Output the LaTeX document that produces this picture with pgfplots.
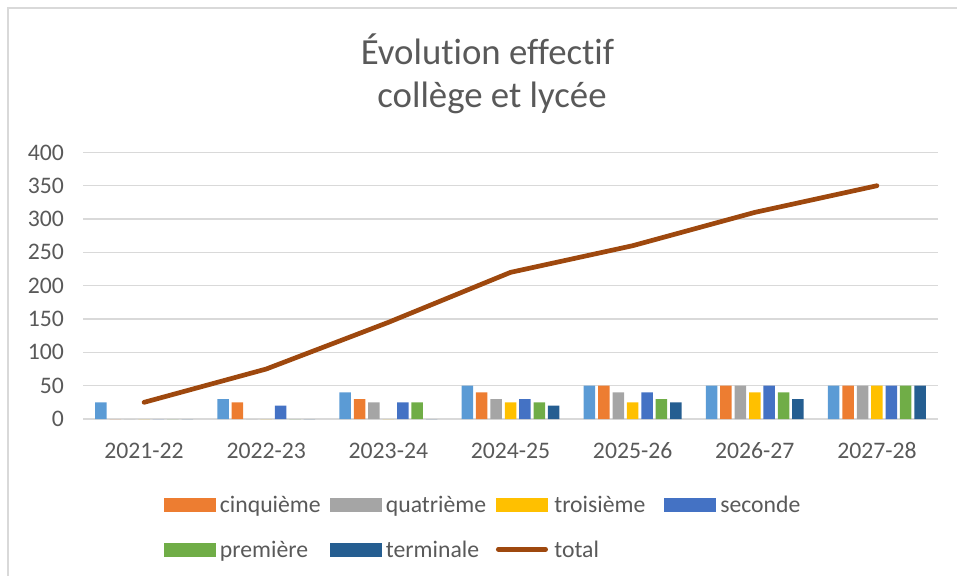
\documentclass[border=0pt]{standalone}
\usepackage{fontspec}
\setmainfont{Carlito}[Ligatures=NoCommon]
\usepackage{pgfplots}
\pgfplotsset{compat=1.18}
\definecolor{csix}{HTML}{5B9BD5}
\definecolor{ccinq}{HTML}{ED7D31}
\definecolor{cquat}{HTML}{A5A5A5}
\definecolor{ctrois}{HTML}{FFC000}
\definecolor{csec}{HTML}{4472C4}
\definecolor{cprem}{HTML}{70AD47}
\definecolor{cterm}{HTML}{255E91}
\definecolor{ctot}{HTML}{9E480E}
\definecolor{txt}{HTML}{595959}
\definecolor{gridc}{HTML}{D9D9D9}
\newcommand{\tickfont}{\fontsize{23.7pt}{28pt}\selectfont}
\newcommand{\titlefont}{\fontsize{36.8pt}{44pt}\selectfont}
\pgfplotsset{
  barleg/.style={legend image code/.code={\fill[#1] (0pt,0pt) rectangle (52pt,14pt); \path (56pt,0pt);}},
  barp/.style={ybar, bar width=11.5pt, fill=#1, draw=none},
}
\newcommand{\lt}[1]{\makebox[110pt][l]{#1}}
\begin{document}
\begin{tikzpicture}
\useasboundingbox (0pt,0pt) rectangle (957pt,575pt);
\draw[color=gridc, line width=1.7pt] (8pt,-5pt) -- (8pt,567pt) -- (965pt,567pt);
\node[anchor=base, text=txt, font=\titlefont, inner sep=0pt] at (487.5pt,510pt) {Évolution effectif};
\node[anchor=base, text=txt, font=\titlefont, inner sep=0pt] at (492pt,467pt) {collège et lycée};
\begin{axis}[
  at={(83pt,156pt)}, anchor=south west,
  scale only axis, width=855pt, height=266.6pt,
  xmin=-0.5, xmax=6.5, ymin=0, ymax=400,
  ytick={0,50,...,400},
  xtick={0,1,2,3,4,5,6},
  xticklabels={2021-22,2022-23,2023-24,2024-25,2025-26,2026-27,2027-28},
  ymajorgrids, xmajorgrids=false,
  major grid style={draw=gridc, line width=1.3pt},
  axis line style={draw=none},
  major tick length=0pt, tick style={draw=none},
  /pgf/number format/assume math mode=true,
  ticklabel style={font=\tickfont, text=txt, inner sep=0pt},
  xticklabel style={anchor=base, yshift=-39pt},
  yticklabel style={anchor=east, xshift=-19pt},
  legend columns=4,
  legend style={at={(0.0947,-0.2824)}, anchor=north west, draw=none, fill=none,
    inner sep=0pt, outer sep=0pt, row sep=21pt, column sep=0pt,
    nodes={inner sep=0pt, text height=18pt, text depth=6pt, font=\tickfont, text=txt},
    cells={anchor=base west}},
]
\addplot[barp=csix, bar shift=-43.2pt, forget plot] coordinates {(0,25) (1,30) (2,40) (3,50) (4,50) (5,50) (6,50)};
\addplot[barp=ccinq, bar shift=-28.8pt, barleg=ccinq] coordinates {(0,0) (1,25) (2,30) (3,40) (4,50) (5,50) (6,50)};
\addlegendentry{\lt{cinquième}}
\addplot[barp=cquat, bar shift=-14.4pt, barleg=cquat] coordinates {(0,0) (1,0) (2,25) (3,30) (4,40) (5,50) (6,50)};
\addlegendentry{\lt{quatrième}}
\addplot[barp=ctrois, bar shift=0pt, barleg=ctrois] coordinates {(0,0) (1,0) (2,0) (3,25) (4,25) (5,40) (6,50)};
\addlegendentry{\lt{troisième}}
\addplot[barp=csec, bar shift=14.4pt, barleg=csec] coordinates {(0,0) (1,20) (2,25) (3,30) (4,40) (5,50) (6,50)};
\addlegendentry{\lt{seconde}}
\addplot[barp=cprem, bar shift=28.8pt, barleg=cprem] coordinates {(0,0) (1,0) (2,25) (3,25) (4,30) (5,40) (6,50)};
\addlegendentry{\lt{première}}
\addplot[barp=cterm, bar shift=43.2pt, barleg=cterm] coordinates {(0,0) (1,0) (2,0) (3,20) (4,25) (5,30) (6,50)};
\addlegendentry{\lt{terminale}}
\addplot[sharp plot, color=ctot, line width=4.7pt, line cap=round, line join=round,
  legend image code/.code={\draw[color=ctot, line width=4.7pt, line cap=round] (2.35pt,8pt) -- (49.65pt,8pt); \path (56pt,0pt);}]
  coordinates {(0,25) (1,75) (2,145) (3,220) (4,260) (5,310) (6,350)};
\addlegendentry{\lt{total}}
\end{axis}
\end{tikzpicture}
\end{document}
